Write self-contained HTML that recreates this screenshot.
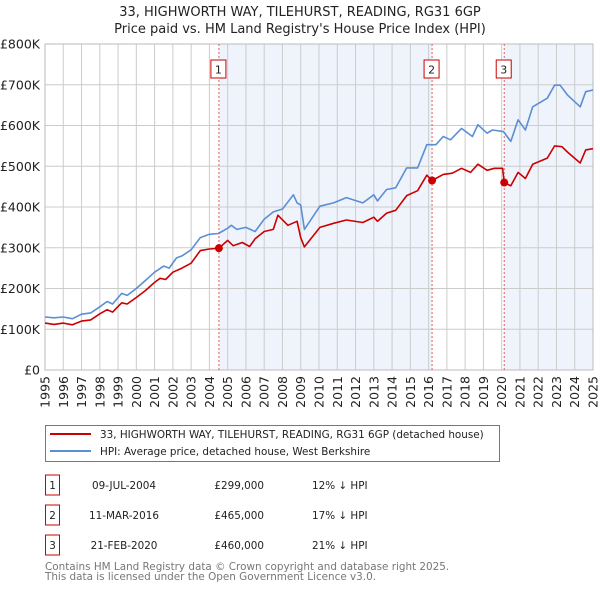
<!DOCTYPE html>
<html><head><meta charset="utf-8">
<style>
body{margin:0;width:600px;height:590px;background:#fff;font-family:"Liberation Sans","DejaVu Sans",sans-serif;overflow:hidden}
svg text{font-family:"DejaVu Sans","Liberation Sans",sans-serif}
</style></head><body>
<svg id="c" width="600" height="590" xmlns="http://www.w3.org/2000/svg"></svg>
<script>
const hpiYears=[1995,1995.5,1996,1996.5,1997,1997.5,1998,1998.4,1998.7,1999.2,1999.5,2000,2000.5,2001,2001.5,2001.8,2002.2,2002.5,2003,2003.5,2004,2004.5,2005,2005.2,2005.5,2006,2006.5,2007,2007.5,2008,2008.6,2008.8,2009.0,2009.2,2010.05,2010.8,2011.5,2012.4,2013,2013.2,2013.7,2014.2,2014.8,2015.4,2015.9,2016.4,2016.8,2017.2,2017.8,2018.4,2018.7,2019.2,2019.5,2020.1,2020.5,2020.9,2021.3,2021.7,2022.5,2022.9,2023.2,2023.6,2024.3,2024.6,2025];
const hpiValues=[130,128,130,126,137,140,155,168,162,188,183,200,220,240,255,250,275,280,295,325,333,335,348,355,345,350,340,370,388,395,430,410,405,345,402,410,423,410,430,415,443,447,496,496,553,553,573,565,593,573,602,581,589,585,561,614,589,646,667,699,699,675,646,683,687];
const priceYears=[1995,1995.5,1996,1996.5,1997,1997.5,1998,1998.4,1998.7,1999.2,1999.5,2000,2000.5,2001,2001.3,2001.6,2002,2002.5,2003,2003.5,2004,2004.52,2005,2005.3,2005.8,2006.2,2006.5,2007,2007.5,2007.75,2008.3,2008.8,2009.0,2009.2,2010.05,2010.8,2011.5,2012.4,2013,2013.2,2013.7,2014.2,2014.8,2015.4,2015.9,2016.19,2016.8,2017.3,2017.8,2018.3,2018.7,2019.2,2019.6,2020.05,2020.14,2020.5,2020.9,2021.3,2021.7,2022.5,2022.9,2023.3,2023.6,2024.3,2024.6,2025];
const priceValues=[115,112,115,111,120,123,138,148,142,165,162,178,195,215,225,222,240,250,262,293,297,299,318,305,313,303,322,340,345,380,355,365,325,302,350,360,368,362,375,365,385,392,428,440,478,465,480,483,495,485,505,490,495,495,460,452,485,470,505,520,550,548,535,508,540,543];
const saleYears=[2004.52,2016.19,2020.14];
const saleValues=[299,465,460];
const saleLabels=["1","2","3"];
const yTicks=[0,100,200,300,400,500,600,700,800];
const yTickLabels=["£0","£100K","£200K","£300K","£400K","£500K","£600K","£700K","£800K"];
const xTicks=[1995,1996,1997,1998,1999,2000,2001,2002,2003,2004,2005,2006,2007,2008,2009,2010,2011,2012,2013,2014,2015,2016,2017,2018,2019,2020,2021,2022,2023,2024,2025];

const NS="http://www.w3.org/2000/svg",svg=document.getElementById('c');
const L=45,R=593,T=44,B=370;
const xs=y=>L+(y-1995)/30*(R-L);
const ys=v=>B-v/800*(B-T);
function el(t,a,p){const e=document.createElementNS(NS,t);for(const k in a)e.setAttribute(k,a[k]);(p||svg).appendChild(e);return e;}
function txt(s,a){const e=el('text',a);e.textContent=s;return e;}

let e;
e=txt("33, HIGHWORTH WAY, TILEHURST, READING, RG31 6GP",{x:300,y:16,'text-anchor':'middle','font-size':13,fill:'#222'});


e=txt("Price paid vs. HM Land Registry's House Price Index (HPI)",{x:300,y:33,'text-anchor':'middle','font-size':13,fill:'#222'});



e=el('rect',{x:xs(saleYears[0]),y:T,width:xs(saleYears[1])-xs(saleYears[0]),height:B-T,fill:'#eef3fc'});


e=el('rect',{x:xs(saleYears[2]),y:T,width:R-xs(saleYears[2]),height:B-T,fill:'#eef3fc'});



yTicks.forEach((v,i)=>{
  e=el('line',{x1:L,x2:R,y1:ys(v),y2:ys(v),stroke:'#ccc','stroke-width':1});
  
  
  e=txt(yTickLabels[i],{x:40,y:ys(v)+4.5,'text-anchor':'end','font-size':12.5,fill:'#222'});
  
  
});
xTicks.forEach(y=>{
  e=el('line',{x1:xs(y),x2:xs(y),y1:T,y2:B,stroke:'#ccc','stroke-width':1});
  
  
  const x=xs(y)+4.5;
  e=txt(String(y),{x:x,y:376,'text-anchor':'end','font-size':12.5,fill:'#222',transform:`rotate(-90 ${x} 376)`});
  
  
});
e=el('rect',{x:L,y:T,width:R-L,height:B-T,fill:'none',stroke:'#bbb'});



saleYears.forEach((y,i)=>{
  e=el('line',{x1:xs(y),x2:xs(y),y1:T,y2:B,stroke:'#e06060','stroke-width':1,'stroke-dasharray':'2,2'});
  
  
});

function path(xa,va,col,name){
  let d=xa.map((y,i)=>(i?'L':'M')+xs(y).toFixed(1)+','+ys(va[i]).toFixed(1)).join('');
  const p=el('path',{d:d,fill:'none',stroke:col,'stroke-width':1.6,'stroke-linejoin':'round'});
  
  
}
path(hpiYears,hpiValues,'#5b8fd4','hpi-line');
path(priceYears,priceValues,'#cc0000','price-line');

saleYears.forEach((y,i)=>{
  e=el('circle',{cx:xs(y),cy:ys(saleValues[i]),r:4,fill:'#cc0000'});
  
  
  e=el('rect',{x:xs(y)-8,y:60,width:15,height:18,fill:'#fff',stroke:'#cc0000'});
  
  
  e=txt(saleLabels[i],{x:xs(y)-0.5,y:73.5,'text-anchor':'middle','font-size':11,fill:'#222'});
  
  
});

e=el('rect',{x:45.5,y:425.5,width:454,height:36,fill:'#fff',stroke:'#777'});


e=el('line',{x1:50,x2:91,y1:434,y2:434,stroke:'#cc0000','stroke-width':2});


e=txt("33, HIGHWORTH WAY, TILEHURST, READING, RG31 6GP (detached house)",{x:100,y:438,'font-size':10.4,fill:'#222'});


e=el('line',{x1:50,x2:91,y1:451,y2:451,stroke:'#5b8fd4','stroke-width':2});


e=txt("HPI: Average price, detached house, West Berkshire",{x:100,y:455,'font-size':10.4,fill:'#222'});



const rowDates=["09-JUL-2004","11-MAR-2016","21-FEB-2020"];
const rowPrices=["£299,000","£465,000","£460,000"];
const rowDiffs=["12% ↓ HPI","17% ↓ HPI","21% ↓ HPI"];
rowDates.forEach((d,i)=>{
  const cy=483+i*30;
  e=el('rect',{x:45.5,y:cy-8,width:14,height:20,fill:'#fff',stroke:'#cc0000'});
  
  
  e=txt(saleLabels[i],{x:52.5,y:cy+6,'text-anchor':'middle','font-size':10.4,fill:'#222'});
  
  
  e=txt(d,{x:124,y:cy+6,'text-anchor':'middle','font-size':10.4,fill:'#222'});
  
  
  e=txt(rowPrices[i],{x:264,y:cy+6,'text-anchor':'end','font-size':10.4,fill:'#222'});
  
  
  e=txt(rowDiffs[i],{x:312,y:cy+6,'font-size':10.4,fill:'#222'});
  
  
});
e=txt("Contains HM Land Registry data © Crown copyright and database right 2025.",{x:45,y:570,'font-size':10.4,fill:'#777'});


e=txt("This data is licensed under the Open Government Licence v3.0.",{x:45,y:580,'font-size':10.4,fill:'#777'});


</script>
</body></html>
